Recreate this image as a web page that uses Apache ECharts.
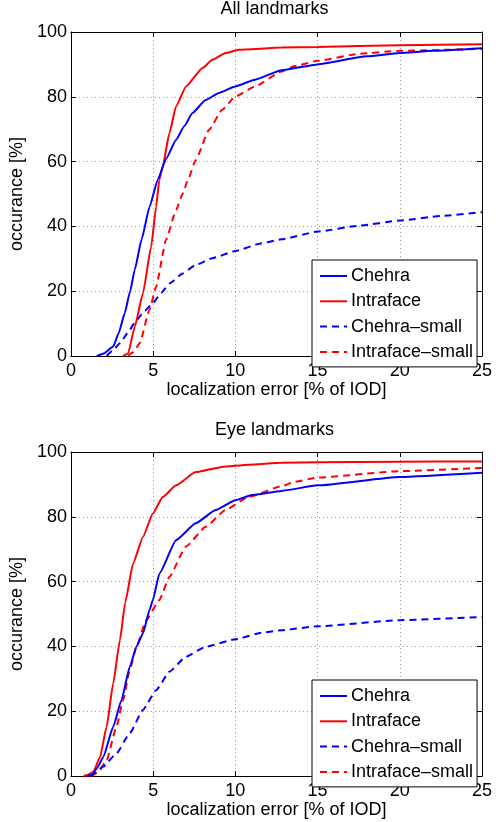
<!DOCTYPE html>
<html><head><meta charset="utf-8">
<script src="https://cdn.jsdelivr.net/npm/echarts@6/dist/echarts.min.js"></script>
<style>html,body{margin:0;padding:0;background:#fff}#c{width:502px;height:822px}</style>
</head><body><div id="c"></div>
<script>
// ---- data ----
const seriesNames = ['Chehra', 'Intraface', 'Chehra–small', 'Intraface–small'];
const chartTitles = ['All landmarks', 'Eye landmarks'];
const xTicks = [0, 5, 10, 15, 20, 25];
const yTicks = [0, 20, 40, 60, 80, 100];

const allChehra = [[1.57,0],[2.0,0.8],[2.57,2.9],[2.9,7],[3.27,13.2],[3.6,20],[3.88,26.6],[4.3,36],[4.78,46],[5.28,54.4],[5.8,61],[6.39,66.7],[6.9,71],[7.39,75],[8.19,79],[9.0,81.2],[10,83.2],[11.2,85.3],[12.8,88.2],[15,90],[18,92.5],[20,93.5],[22,94.2],[25,95]];
const allIntraface = [[3.17,0],[3.48,0.8],[3.88,9],[4.38,19.4],[4.88,33.8],[5.18,46.1],[5.38,54.4],[5.58,58.5],[5.99,68.8],[6.39,77],[7.0,83.2],[8.0,88.9],[8.6,91.4],[9.4,93.5],[10.2,94.5],[12.8,95.2],[15,95.4],[20,95.9],[25,96.2]];
const allChehraSmall = [[2.17,0],[2.5,1.5],[2.98,3.9],[3.5,7.5],[3.98,11.1],[4.5,14],[4.98,16.3],[5.5,19.5],[5.99,22.4],[6.8,25.5],[7.59,28.1],[8.6,30.2],[10,32.4],[11.6,34.8],[12.8,36],[15,38.4],[17.5,40.2],[20,41.8],[22.5,43.2],[25,44.4]];
const allIntrafaceSmall = [[3.48,0],[3.8,1.2],[4.18,3.9],[4.78,14.2],[5.18,21.4],[5.78,35.8],[6.39,45],[6.79,50],[7.09,54],[7.59,60.5],[8.4,69.8],[9.2,76],[10,80.1],[11.2,83.2],[12.8,87.8],[13.6,89.5],[15,91.1],[17.6,93.3],[20,94.2],[25,94.8]];

const eyeChehra = [[1.0,0],[1.27,0.3],[1.6,2.5],[1.97,5.9],[2.57,15.2],[3.07,23.4],[3.58,33.7],[3.98,39.9],[4.38,44],[4.78,51.2],[4.98,54.3],[5.38,62.5],[6.39,72.8],[7.59,78],[8.8,82.1],[10,85.1],[11,86.7],[12.8,88],[15,89.7],[20,92.3],[25,93.6]];
const eyeIntraface = [[0.77,0],[1.0,0.3],[1.37,1.3],[1.77,5.9],[2.17,15.2],[2.57,28.6],[2.98,42],[3.3,53.5],[3.78,65.6],[4.38,73.8],[4.98,81],[5.58,86.1],[6.39,89.7],[7.59,93.8],[9.2,95.4],[10.8,96.1],[12.8,96.7],[15,96.8],[20,97],[25,97.1]];
const eyeChehraSmall = [[1.17,0],[1.5,1],[1.97,2.9],[2.77,7],[3.58,13.2],[4.38,20.4],[5.18,26.5],[5.99,32.2],[6.99,36.8],[8.19,39.9],[10,42.2],[11.6,44.2],[12.8,45],[15,46.2],[20,48.1],[25,49.1]];
const eyeIntrafaceSmall = [[1.2,0],[1.37,0.3],[1.7,1.5],[2.17,4.9],[2.77,15.2],[3.17,23.4],[3.58,32.7],[3.98,39.9],[4.58,48.1],[5.38,54.3],[5.99,61.5],[6.99,70.8],[8.19,76.9],[9.4,82.1],[10.8,86.1],[12.8,89.4],[13.6,90.8],[15,92.1],[20,94.1],[25,95.1]];

const panelData = [
  [allChehra, allIntraface, allChehraSmall, allIntrafaceSmall],
  [eyeChehra, eyeIntraface, eyeChehraSmall, eyeIntrafaceSmall]
];

// ---- styles ----
const FONT = '"Liberation Sans", Arial, Helvetica, sans-serif';
const colors = ['#0000ff', '#ff0000', '#0000ff', '#ff0000'];
const dashed = [false, false, true, true];
const gridBoxes = [{left: 67, top: 32, width: 415, height: 324}, {left: 67, top: 452, width: 415, height: 324}];
const titleTops = [0, 421];
const legendTops = [260, 680];

const xMin = xTicks[0], xMax = xTicks[xTicks.length - 1], xStep = xTicks[1] - xTicks[0];
const yMin = yTicks[0], yMax = yTicks[yTicks.length - 1], yStep = yTicks[1] - yTicks[0];

const axisLine = {show: true, onZero: false, lineStyle: {color: '#000', width: 1}};
const tick = {show: true, inside: true, length: 5, lineStyle: {color: '#000'}};
const split = {show: true, lineStyle: {color: '#9a9a9a', type: [1, 3], width: 1}};
const lbl = {color: '#000', fontSize: 18, fontFamily: FONT};

const option = {
  animation: false,
  backgroundColor: '#fff',
  title: [], grid: [], xAxis: [], yAxis: [], legend: [], series: []
};

for (let p = 0; p < 2; p++) {
  option.title.push({
    text: chartTitles[p], left: 274.5, top: titleTops[p], textAlign: 'center', padding: 0,
    textStyle: {color: '#000', fontSize: 18, fontWeight: 'normal', fontFamily: FONT}
  });
  option.grid.push(Object.assign({containLabel: false}, gridBoxes[p]));
  option.xAxis.push({
    type: 'value', gridIndex: p, position: 'bottom', min: xMin, max: xMax, interval: xStep,
    axisLine, axisTick: tick, splitLine: split,
    axisLabel: Object.assign({margin: 6}, lbl),
    name: 'localization error [% of IOD]', nameLocation: 'middle', nameGap: 24,
    nameTextStyle: lbl
  });
  option.xAxis.push({
    type: 'value', gridIndex: p, position: 'top', min: xMin, max: xMax, interval: xStep,
    axisLine, axisTick: tick, splitLine: {show: false}, axisLabel: {show: false}
  });
  option.yAxis.push({
    type: 'value', gridIndex: p, position: 'left', min: yMin, max: yMax, interval: yStep,
    axisLine, axisTick: tick, splitLine: split,
    axisLabel: Object.assign({margin: 4}, lbl),
    name: 'occurance [%]', nameLocation: 'middle', nameGap: 32, nameRotate: 90,
    nameTextStyle: lbl
  });
  option.yAxis.push({
    type: 'value', gridIndex: p, position: 'right', min: yMin, max: yMax, interval: yStep,
    axisLine, axisTick: tick, splitLine: {show: false}, axisLabel: {show: false}
  });
  option.legend.push({
    data: seriesNames, orient: 'vertical', left: 312, top: legendTops[p],
    padding: [7, 4, 6, 7], itemGap: 7.3, itemWidth: 27, itemHeight: 14,
    borderColor: '#000', borderWidth: 1, backgroundColor: '#fff', borderRadius: 0,
    itemStyle: {opacity: 0},
    textStyle: {color: '#000', fontSize: 18, fontFamily: FONT, padding: [0, 0, 0, -1]},
    selectedMode: false
  });
  for (let s = 0; s < 4; s++) {
    option.series.push({
      name: seriesNames[s], type: 'line', xAxisIndex: p * 2, yAxisIndex: p * 2,
      data: panelData[p][s], symbol: 'none', smooth: 0.15, smoothMonotone: 'x',
      lineStyle: {color: colors[s], width: 2, type: dashed[s] ? [7, 5] : 'solid'},
      itemStyle: {color: colors[s]}, z: 3 + (4 - s)
    });
  }
}

const chart = echarts.init(document.getElementById('c'), null, {renderer: 'canvas'});
chart.setOption(option);
</script>
</body></html>
